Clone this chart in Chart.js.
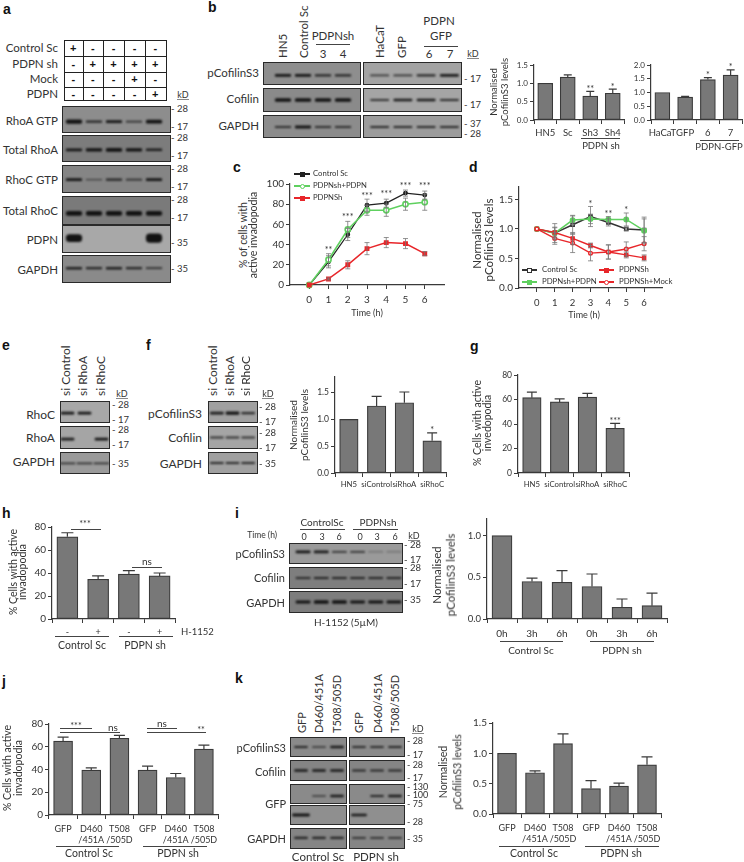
<!DOCTYPE html>
<html lang="en">
<head>
<meta charset="UTF-8" />
<title>PDPN figure</title>
<script src="https://cdn.jsdelivr.net/npm/chart.js"></script>
<style>
  html, body { margin: 0; padding: 0; background: #fff; }
  #page { position: relative; width: 744px; height: 862px; overflow: hidden; font-family: Lato, sans-serif; color: #333; }
  #page span { position: absolute; white-space: nowrap; line-height: 1; }
  #page canvas { position: absolute; }
  .rule { position: absolute; background: #444; }
  .blot { position: absolute; border: 1.5px solid #2a2a2a; box-sizing: border-box; overflow: hidden; }
  .blot canvas { filter: blur(0.8px); }
  .cell { position: absolute; border: 1px solid #222; box-sizing: border-box; }
  .dot { position: absolute; }
</style>
</head>
<body>
<div id="page"></div>
<script>
  // panel b bars
  const bLeftCats = ["HN5", "Sc", "Sh3", "Sh4"];
  const bLeftVals = [1.0, 1.17, 0.65, 0.73];
  const bLeftTops = [1.0, 1.23, 0.78, 0.84];
  const bLeftStars = ["", "", "**", "*"];
  const bRightCats = ["HaCaT", "GFP", "6", "7"];
  const bRightVals = [1.0, 0.83, 1.47, 1.63];
  const bRightTops = [1.0, 0.86, 1.54, 1.82];
  const bRightStars = ["", "", "*", "*"];

  // panel c lines
  const hours = [0, 1, 2, 3, 4, 5, 6];
  const cControl = [0, 23, 50, 79, 81, 91, 89];
  const cControlErr = [0, 6, 6, 6, 4, 3, 4];
  const cRescue = [0, 25, 55, 74, 74, 80, 82];
  const cRescueErr = [0, 6, 8, 5, 6, 6, 8];
  const cSh = [0, 6, 20, 36, 42, 41, 31];
  const cShErr = [0, 1, 4, 6, 5, 5, 2];
  const cStars = ["", "**", "***", "***", "***", "***", "***"];
  const cStarLevels = [0, 35, 67, 88, 90, 98, 98];

  // panel d lines
  const dControl = [1, 0.93, 1.07, 1.21, 1.11, 1.0, 0.98];
  const dControlErr = [0, 0.16, 0.16, 0.17, 0.06, 0.03, 0.22];
  const dRescue = [1, 0.93, 1.15, 1.17, 1.16, 1.16, 0.97];
  const dRescueErr = [0, 0.1, 0.07, 0.08, 0.05, 0.11, 0.2];
  const dSh = [1, 0.94, 0.84, 0.72, 0.61, 0.56, 0.51];
  const dShErr = [0, 0.08, 0.1, 0.04, 0.12, 0.05, 0.05];
  const dMock = [1, 0.84, 0.76, 0.59, 0.61, 0.66, 0.75];
  const dMockErr = [0, 0.1, 0.16, 0.13, 0.12, 0.12, 0.12];
  const dStars = ["", "", "", "*", "**", "*", ""];
  const dStarLevels = [0, 0, 0, 1.42, 1.26, 1.32, 0];

  // panels f, g
  const siCats = ["HN5", "siControl", "siRhoA", "siRhoC"];
  const fVals = [1.0, 1.25, 1.31, 0.6];
  const fTops = [1.0, 1.43, 1.51, 0.75];
  const fStars = ["", "", "", "*"];
  const gVals = [61.5, 58, 62, 36.5];
  const gTops = [66, 60.5, 65, 40.5];
  const gStars = ["", "", "", "***"];

  // panels h, i
  const hCats = ["-", "+", "-", "+"];
  const hVals = [71.5, 34.5, 39, 37.5];
  const hTops = [75, 37.5, 42, 40];
  const iCats = ["0h", "3h", "6h", "0h", "3h", "6h"];
  const iVals = [1.0, 0.45, 0.44, 0.39, 0.14, 0.16];
  const iTops = [1.0, 0.49, 0.58, 0.54, 0.24, 0.31];

  // panels j, k
  const mutantCats = ["GFP", ["D460", "/451A"], ["T508", "/505D"], "GFP", ["D460", "/451A"], ["T508", "/505D"]];
  const jVals = [65, 39.5, 67.5, 39.5, 33, 58];
  const jTops = [68.5, 41.5, 70, 43, 36.5, 61.5];
  const kVals = [1.0, 0.68, 1.16, 0.42, 0.46, 0.81];
  const kTops = [1.0, 0.71, 1.32, 0.55, 0.51, 0.94];

  // blot band strengths, one per lane
  const aRhoAGtp = [3.5, 1.5, 2.2, 1.2, 3];
  const aTotalRhoA = [2.2, 2.5, 3, 2.5, 1.8];
  const aRhoCGtp = [2.2, 0.6, 1.5, 1.2, 2.2];
  const aTotalRhoC = [4, 4, 4, 4, 4];
  const aPdpn = [7, 0, 0, 0, 8.5];
  const aGapdh = [1.8, 1.5, 1.8, 1.5, 1.2];
  const bPcofL = [2.2, 2.2, 1.5, 1.5];
  const bCofL = [3, 3, 3, 3];
  const bGapdhL = [1.2, 2.2, 1.2, 1.2];
  const bPcofR = [1, 1.2, 1.5, 2];
  const bCofR = [1.2, 2, 2, 1.5];
  const bGapdhR = [1.5, 1.5, 1.5, 1.5];
  const eRhoC = [2.2, 2.2, 0];
  const eRhoA = [2, 0, 2.2];
  const eGapdh = [1.2, 1.2, 1.2];
  const fPcof = [2, 2.5, 1.5];
  const fCof = [1.2, 1.2, 1.2];
  const fGapdh = [1.5, 1.5, 1.5];
  const iPcof = [2.2, 2, 1.2, 1.2, 0.2, 0.2];
  const iCof = [1.2, 1.5, 1.5, 1.5, 1.5, 1.5];
  const iGapdh = [2.5, 3, 3, 2.2, 2.5, 2.5];
  const kPcofL = [1.5, 1, 2];
  const kCofL = [2, 2, 2];
  const kGfpTopL = [0, 0.8, 2];
  const kGfpLowL = [2.2, 0, 0];
  const kGapdhL = [1.5, 1.5, 1.5];
  const kPcofR = [1.2, 1.2, 1.5];
  const kCofR = [1.5, 1.5, 1.5];
  const kGfpTopR = [0, 1.5, 2];
  const kGfpLowR = [2, 0, 0];
  const kGapdhR = [1.2, 1.2, 1.2];

  const page = document.getElementById("page");
  const ink = "#3a3a3a";
  const barFill = "#787878";

  function T(str, x, y, o = {}) {
    const s = document.createElement("span");
    s.textContent = str;
    const ax = o.align === "right" ? "-100%" : o.align === "left" ? "0" : "-50%";
    s.style.left = x + "px";
    s.style.top = y + "px";
    s.style.fontSize = (o.size || 11) + "px";
    if (o.bold) { s.style.fontWeight = "bold"; s.style.fontFamily = "'Liberation Sans', sans-serif"; s.style.color = "#111"; }
    if (o.rot) {
      s.style.writingMode = "vertical-rl";
      s.style.transform = `translate(-50%, ${o.rot === "bottom" ? "-100%" : "-50%"}) rotate(180deg)`;
    } else {
      s.style.transform = `translate(${ax}, -50%)`;
    }
    page.appendChild(s);
  }

  function rule(x0, x1, y, h = 1, color = "#444") {
    const d = document.createElement("div");
    d.className = "rule";
    d.style.cssText = `left:${x0}px;top:${y}px;width:${x1 - x0}px;height:${h}px;background:${color}`;
    page.appendChild(d);
  }

  function marker(x, y, size, color, open, round) {
    const d = document.createElement("div");
    d.className = "dot";
    d.style.cssText = `left:${x - size / 2}px;top:${y - size / 2}px;width:${size}px;height:${size}px;box-sizing:border-box;` +
      (open ? `border:1.2px solid ${color};background:#fff;` : `background:${color};`) + (round ? "border-radius:50%;" : "");
    page.appendChild(d);
  }

  function legendRow(label, x0, x1, y, color, textX, size, open, round, lw = 1.5) {
    rule(x0, x1, y - lw / 2, lw, color);
    marker((x0 + x1) / 2, y, 5, color, open, round);
    T(label, textX, y, { align: "left", size });
  }

  // error bars and significance stars, read through the chart's own scales
  const marksPlugin = {
    id: "marks",
    afterDatasetsDraw(chart) {
      const { ctx, scales: { y } } = chart;
      chart.data.datasets.forEach((ds, di) => {
        chart.getDatasetMeta(di).data.forEach((el, i) => {
          if (ds.tops) {
            const py = y.getPixelForValue(ds.tops[i]);
            if (ds.tops[i] > ds.data[i]) {
              const cap = ds.capSize || 6;
              ctx.strokeStyle = ink; ctx.lineWidth = 1.2;
              ctx.beginPath();
              ctx.moveTo(el.x, el.y); ctx.lineTo(el.x, py);
              ctx.moveTo(el.x - cap, py); ctx.lineTo(el.x + cap, py);
              ctx.stroke();
            }
            if (ds.stars && ds.stars[i]) {
              ctx.fillStyle = "#333"; ctx.font = "9px Lato"; ctx.textAlign = "center"; ctx.textBaseline = "alphabetic";
              ctx.fillText(ds.stars[i], el.x, py + 0.5);
            }
          }
          if (ds.rawErr && ds.rawErr[i]) {
            const hi = y.getPixelForValue(ds.data[i].y + ds.rawErr[i]);
            const lo = y.getPixelForValue(ds.data[i].y - ds.rawErr[i]);
            ctx.strokeStyle = "#777"; ctx.lineWidth = 0.8;
            ctx.beginPath();
            ctx.moveTo(el.x, hi); ctx.lineTo(el.x, lo);
            ctx.moveTo(el.x - 2.5, hi); ctx.lineTo(el.x + 2.5, hi);
            ctx.moveTo(el.x - 2.5, lo); ctx.lineTo(el.x + 2.5, lo);
            ctx.stroke();
          }
        });
      });
      const st = chart.options.plugins.marks;
      if (st && st.stars) {
        const xs = chart.scales.x;
        ctx.fillStyle = "#333"; ctx.font = "9px Lato"; ctx.textAlign = "center"; ctx.textBaseline = "alphabetic";
        st.stars.forEach((s, i) => {
          if (s) ctx.fillText(s, xs.getPixelForValue(st.xs[i]), y.getPixelForValue(st.levels[i]) + 3);
        });
      }
    }
  };

  function place(x0, yTop, x1, yBottom, left, bottom) {
    const c = document.createElement("canvas");
    c.width = x1 - x0 + left + 6;
    c.height = yBottom - yTop + bottom + 8;
    c.style.left = (x0 - left) + "px";
    c.style.top = (yTop - 8) + "px";
    page.appendChild(c);
    return c;
  }

  function axes(p, left, bottom) {
    return {
      y: {
        min: 0, max: p.max,
        afterFit: s => { s.width = left; },
        border: { color: ink, width: 1.2 },
        grid: { drawOnChartArea: false, color: ink, tickLength: 4 },
        ticks: {
          stepSize: p.step, includeBounds: false, color: "#333", padding: 2,
          font: { family: "Lato", size: p.tickSize || 9.5 },
          callback: v => p.fixed ? v.toFixed(1) : v
        }
      },
      x: {
        afterFit: s => { s.height = bottom; },
        border: { color: ink, width: 1.2 },
        grid: { drawOnChartArea: false, color: ink, tickLength: 4 },
        ticks: {
          color: "#333", padding: p.xPad === undefined ? 3 : p.xPad, maxRotation: 0, minRotation: 0, autoSkip: false,
          font: { family: "Lato", size: p.xSize || 9.5, lineHeight: 1.25 }
        }
      }
    };
  }

  function barPanel(p) {
    const left = 40, bottom = 44;
    const c = place(p.x0, p.yTop, p.x1, p.yBottom, left, bottom);
    new Chart(c, {
      type: "bar",
      data: {
        labels: p.cats,
        datasets: [{
          data: p.vals, tops: p.tops, stars: p.stars, capSize: p.cap,
          backgroundColor: barFill, borderColor: ink, borderWidth: 1.2, borderSkipped: false,
          barThickness: p.barW
        }]
      },
      options: {
        responsive: false, animation: false,
        layout: { autoPadding: false, padding: { top: 8, right: 6 } },
        plugins: { legend: { display: false }, tooltip: { enabled: false } },
        scales: axes(p, left, bottom)
      },
      plugins: [marksPlugin]
    });
  }

  function linePanel(p) {
    const left = 40, bottom = 30;
    const c = place(p.x0, p.yTop, p.x1, p.yBottom, left, bottom);
    const sc = axes(p, left, bottom);
    sc.x.type = "linear";
    sc.x.min = -1; sc.x.max = 7;
    sc.x.ticks.stepSize = 1;
    sc.x.afterBuildTicks = s => { s.ticks = s.ticks.filter(t => t.value >= 0 && t.value <= 6); };
    new Chart(c, {
      type: "line",
      data: { labels: hours, datasets: p.datasets.map(d => ({
        data: d.data.map((v, i) => ({ x: hours[i], y: v })), rawErr: d.err,
        borderColor: d.color, backgroundColor: d.open ? "#fff" : d.color,
        pointBorderColor: d.color, pointRadius: d.r || 2.2, pointStyle: d.style || "circle",
        borderWidth: d.w || 1.5, tension: 0, clip: false
      })) },
      options: {
        responsive: false, animation: false,
        layout: { autoPadding: false, padding: { top: 8, right: 6 } },
        plugins: { legend: { display: false }, tooltip: { enabled: false }, marks: { stars: p.stars, levels: p.levels, xs: hours } },
        scales: sc
      },
      plugins: [marksPlugin]
    });
  }

  // one western blot strip: floating bars on a hidden scale, one per lane
  function blot(x0, y0, x1, y1, first, last, bands, pos, bg, bandW) {
    const w = document.createElement("div");
    w.className = "blot";
    w.style.cssText = `left:${x0}px;top:${y0}px;width:${x1 - x0}px;height:${y1 - y0}px;background:${bg}`;
    page.appendChild(w);
    const h = y1 - y0;
    const step = (last - first) / (bands.length - 1);
    const c = document.createElement("canvas");
    c.width = Math.round(step * bands.length);
    c.height = h;
    c.style.left = (first - step / 2 - x0 - 1.5) + "px";
    c.style.top = "-1.5px";
    w.appendChild(c);
    new Chart(c, {
      type: "bar",
      data: {
        labels: bands.map((_, i) => i),
        datasets: [{
          data: bands.map(t => t ? [h * (1 - pos) - t / 2, h * (1 - pos) + t / 2] : null),
          backgroundColor: bands.map(t => `rgba(18,18,18,${Math.min(1, 0.55 + t * 0.2)})`),
          borderRadius: 4, borderSkipped: false, barThickness: bandW || step * 0.78
        }]
      },
      options: {
        responsive: false, animation: false,
        layout: { autoPadding: false },
        plugins: { legend: { display: false }, tooltip: { enabled: false } },
        scales: { x: { display: false }, y: { display: false, min: 0, max: h } }
      }
    });
  }

  function kD(x, y, size = 9) {
    T("kD", x, y, { size });
    rule(x - 6, x + 6, y + 5, 1, "#888");
  }
  function sizes(x, list, size = 9.5) {
    list.forEach(([label, y]) => T("- " + label, x, y, { align: "left", size }));
  }

  // panel letters
  [["a", 3, 9], ["b", 208, 7], ["c", 233, 167], ["d", 469, 167], ["e", 2, 345], ["f", 146, 345], ["g", 470, 346],
   ["h", 2, 513], ["i", 235, 513], ["j", 2, 681], ["k", 235, 678]].forEach(([l, x, y]) => T(l, x, y, { align: "left", size: 14, bold: true }));

  // ---- panel a ----
  const aCols = [64, 82.5, 103, 124, 145, 165.5];
  const aRows = [40, 56, 71.5, 87, 100];
  const aSigns = [["+", "-", "-", "-", "-"], ["-", "+", "+", "+", "+"], ["-", "-", "-", "+", "-"], ["-", "-", "-", "-", "+"]];
  aSigns.forEach((row, r) => row.forEach((s, i) => {
    const d = document.createElement("div");
    d.className = "cell";
    d.style.cssText = `left:${aCols[i]}px;top:${aRows[r]}px;width:${aCols[i + 1] - aCols[i] + 1}px;height:${aRows[r + 1] - aRows[r] + 1}px`;
    page.appendChild(d);
    T(s, (aCols[i] + aCols[i + 1]) / 2, (aRows[r] + aRows[r + 1]) / 2, { size: 11, bold: true });
  }));
  [["Control Sc", 48], ["PDPN sh", 64], ["Mock", 79], ["PDPN", 94], ["RhoA GTP", 121], ["Total RhoA", 150],
   ["RhoC GTP", 180], ["Total RhoC", 211], ["PDPN", 240], ["GAPDH", 270]].forEach(([l, y]) => T(l, 58, y, { align: "right", size: 11.5 }));
  blot(62, 106, 171, 133, 74, 154, aRhoAGtp, 0.58, "#8d8d8d");
  blot(62, 135, 171, 162, 74, 154, aTotalRhoA, 0.55, "#7c7c7c");
  blot(62, 165, 171, 193, 74, 154, aRhoCGtp, 0.52, "#858585");
  blot(62, 196, 171, 225, 74, 154, aTotalRhoC, 0.6, "#7a7a7a");
  blot(62, 225, 171, 253, 74, 154, aPdpn, 0.47, "#a8a8a8");
  blot(62, 255, 171, 283, 74, 154, aGapdh, 0.47, "#8a8a8a");
  kD(183, 94);
  sizes(171, [["28", 109], ["17", 127], ["28", 138], ["17", 156], ["28", 169], ["17", 187], ["28", 200], ["17", 218], ["35", 243], ["35", 269]]);

  // ---- panel b ----
  [["HN5", 283], ["Control Sc", 304], ["HaCaT", 380], ["GFP", 402]].forEach(([l, x]) => T(l, x, 58, { size: 11.5, rot: "bottom" }));
  T("PDPNsh", 333, 36, { size: 11.5 }); rule(316, 350, 44);
  T("3", 323, 54, { size: 11.5 }); T("4", 343, 54, { size: 11.5 });
  T("PDPN", 439, 21, { size: 11.5 }); T("GFP", 441, 36, { size: 11.5 }); rule(424, 458, 46);
  T("6", 429, 54, { size: 11.5 }); T("7", 450, 54, { size: 11.5 });
  [["pCofilinS3", 73], ["Cofilin", 99], ["GAPDH", 126]].forEach(([l, y]) => T(l, 259, y, { align: "right", size: 11.5 }));
  blot(263, 62, 361, 85, 283, 343, bPcofL, 0.58, "#8e8e8e");
  blot(263, 88, 361, 112, 283, 343, bCofL, 0.5, "#8a8a8a");
  blot(263, 115, 361, 138, 283, 343, bGapdhL, 0.52, "#8c8c8c");
  blot(363, 62, 462, 85, 380, 450, bPcofR, 0.58, "#a3a3a3");
  blot(363, 88, 462, 112, 380, 450, bCofR, 0.5, "#a5a5a5");
  blot(363, 115, 462, 138, 380, 450, bGapdhR, 0.52, "#9c9c9c");
  kD(473, 53);
  sizes(464, [["17", 79], ["17", 105], ["37", 124], ["28", 134]]);

  barPanel({ x0: 534, x1: 624, yTop: 65, yBottom: 120, max: 1.5, step: 0.5, fixed: true, cats: bLeftCats, vals: bLeftVals, tops: bLeftTops, stars: bLeftStars, barW: 15, cap: 4, tickSize: 8, xSize: 9.5 });
  barPanel({ x0: 651, x1: 742, yTop: 65, yBottom: 120, max: 2.0, step: 0.5, fixed: true, cats: bRightCats, vals: bRightVals, tops: bRightTops, stars: bRightStars, barW: 15, cap: 4, tickSize: 8, xSize: 9.5 });
  T("Normalised", 494, 92, { size: 9.5, rot: "center" });
  T("pCofilinS3  levels", 505, 92, { size: 9.5, rot: "center" });
  rule(581, 620, 138); T("PDPN sh", 601, 146, { size: 9.5 });
  rule(700, 739, 140); T("PDPN-GFP", 719, 147, { size: 9.5 });

  // ---- panel c ----
  linePanel({
    x0: 290, x1: 444, yTop: 184, yBottom: 285, max: 100, step: 20, tickSize: 10, xSize: 10, xPad: 5,
    datasets: [
      { data: cSh, err: cShErr, color: "#e8262a", style: "rect", r: 2.4, w: 1.5 },
      { data: cRescue, err: cRescueErr, color: "#5fd05f", open: true, r: 2.6, w: 1.6 },
      { data: cControl, err: cControlErr, color: "#222", r: 1.8, w: 1.3 }
    ],
    stars: cStars, levels: cStarLevels
  });
  T("% of cells with", 243, 235, { size: 10.5, rot: "center" });
  T("active invadopodia", 253, 235, { size: 10.5, rot: "center" });
  T("Time (h)", 367, 312, { size: 9 });
  legendRow("Control Sc", 294, 310, 174, "#222", 313, 7.7);
  legendRow("PDPNsh+PDPN", 294, 310, 186, "#5fd05f", 313, 7.7, true, true);
  legendRow("PDPNSh", 294, 310, 198, "#e8262a", 313, 7.7);

  // ---- panel d ----
  linePanel({
    x0: 519, x1: 662, yTop: 187, yBottom: 288, max: 1.71, step: 0.5, fixed: true, tickSize: 10, xSize: 9.5, xPad: 5,
    datasets: [
      { data: dMock, err: dMockErr, color: "#e8262a", open: true, r: 1.8, w: 1.4 },
      { data: dSh, err: dShErr, color: "#e8262a", style: "rect", r: 2.2, w: 1.4 },
      { data: dRescue, err: dRescueErr, color: "#5fd05f", r: 2.2, w: 1.5 },
      { data: dControl, err: dControlErr, color: "#333", style: "rect", open: true, r: 2.2, w: 1.5 }
    ],
    stars: dStars, levels: dStarLevels
  });
  T("Normalised", 477, 240, { size: 11.5, rot: "center" });
  T("pCofilinS3  levels", 489, 240, { size: 11.5, rot: "center" });
  T("Time (h)", 584, 314, { size: 9 });
  legendRow("Control Sc", 522, 537, 270, "#333", 542, 7.8, true, false, 1.6);
  legendRow("PDPNSh", 599, 614, 270, "#e8262a", 619, 7.8);
  legendRow("PDPNsh+PDPN", 522, 537, 282, "#5fd05f", 542, 7.8);
  legendRow("PDPNSh+Mock", 599, 614, 282, "#e8262a", 619, 7.8, true, true);

  // ---- panel e ----
  [["si Control", 66], ["si RhoA", 83], ["si RhoC", 101]].forEach(([l, x]) => T(l, x, 396, { size: 12, rot: "bottom" }));
  [["RhoC", 415], ["RhoA", 438], ["GAPDH", 462]].forEach(([l, y]) => T(l, 55, y, { align: "right", size: 12 }));
  blot(60, 401, 110, 423, 68, 102, eRhoC, 0.55, "#a8a8a8", 13);
  blot(60, 426, 110, 449, 68, 102, eRhoA, 0.57, "#a5a5a5", 13);
  blot(60, 452, 110, 474, 68, 102, eGapdh, 0.52, "#9a9a9a", 15);
  kD(122, 393);
  sizes(112, [["28", 405], ["17", 420], ["28", 430], ["17", 445], ["35", 464]]);

  // ---- panel f ----
  [["si Control", 213], ["si RhoA", 230], ["si RhoC", 246]].forEach(([l, x]) => T(l, x, 396, { size: 12, rot: "bottom" }));
  [["pCofilinS3", 414], ["Cofilin", 438], ["GAPDH", 464]].forEach(([l, y]) => T(l, 202, y, { align: "right", size: 12 }));
  blot(208, 401, 258, 423, 217, 248, fPcof, 0.55, "#a0a0a0", 13);
  blot(208, 426, 258, 449, 217, 248, fCof, 0.5, "#a5a5a5", 13);
  blot(208, 452, 258, 474, 217, 248, fGapdh, 0.5, "#a0a0a0", 13);
  kD(268, 393);
  sizes(259, [["28", 407], ["17", 422], ["28", 433], ["17", 448], ["35", 464]]);

  barPanel({ x0: 335, x1: 446, yTop: 377, yBottom: 473, max: 1.79, step: 0.5, fixed: true, cats: siCats, vals: fVals, tops: fTops, stars: fStars, barW: 18.5, cap: 5, tickSize: 8.5, xSize: 7.8, xPad: 3 });
  T("Normalised", 293, 425, { size: 10, rot: "center" });
  T("pCofilinS3 levels", 304, 425, { size: 10, rot: "center" });

  // ---- panel g ----
  barPanel({ x0: 518, x1: 629, yTop: 375, yBottom: 473, max: 80, step: 20, cats: siCats, vals: gVals, tops: gTops, stars: gStars, barW: 18.5, cap: 5, tickSize: 8.5, xSize: 7.8, xPad: 3 });
  T("% Cells with active", 477, 423, { size: 10.5, rot: "center" });
  T("invedopodia", 487, 423, { size: 10.5, rot: "center" });

  // ---- panel h ----
  barPanel({ x0: 52, x1: 175, yTop: 527, yBottom: 619, max: 80, step: 20, cats: hCats, vals: hVals, tops: hTops, barW: 21, cap: 6, tickSize: 10, xSize: 9, xPad: 3 });
  T("% Cells with active", 13, 572, { size: 10.5, rot: "center" });
  T("invadopodia", 22, 572, { size: 10.5, rot: "center" });
  rule(55, 109, 636); rule(119, 173, 636);
  T("Control Sc", 82, 645, { size: 10.5 }); T("PDPN sh", 145, 645, { size: 10.5 });
  T("H-1152", 181, 632, { align: "left", size: 9.5 });
  rule(71, 101, 529); T("***", 85, 523, { size: 9 });
  rule(132, 162, 567); T("ns", 147, 561, { size: 10 });

  // ---- panel i ----
  T("ControlSc", 322, 522, { size: 10 }); rule(300, 345, 529);
  T("PDPNsh", 378, 522, { size: 10 }); rule(353, 398, 529);
  T("Time (h)", 277, 535, { align: "right", size: 8.5 });
  [[304, "0"], [322, "3"], [339, "6"], [360, "0"], [377, "3"], [395, "6"]].forEach(([x, l]) => T(l, x, 536, { size: 9 }));
  [["pCofilinS3", 553], ["Cofilin", 577], ["GAPDH", 602]].forEach(([l, y]) => T(l, 285, y, { align: "right", size: 11 }));
  blot(289, 543, 403, 564, 304, 395, iPcof, 0.42, "#9a9a9a");
  blot(289, 567, 403, 589, 304, 395, iCof, 0.5, "#7e7e7e");
  blot(289, 591, 403, 613, 304, 395, iGapdh, 0.5, "#7d7d7d");
  T("H-1152 (5µM)", 346, 622, { size: 10 });
  kD(414, 535);
  sizes(404, [["28", 545], ["17", 560], ["28", 568], ["17", 584], ["35", 600]]);

  barPanel({ x0: 487, x1: 667, yTop: 519, yBottom: 619, max: 1.2, step: 0.5, fixed: true, cats: iCats, vals: iVals, tops: iTops, barW: 20, cap: 5.5, tickSize: 9.5, xSize: 10, xPad: 5 });
  T("Normalised", 437, 575, { size: 11.5, rot: "center" });
  T("pCofilinS3 levels", 451, 575, { size: 11.5, rot: "center" });
  rule(500, 563, 641); rule(590, 654, 641);
  T("Control Sc", 531, 650, { size: 10 }); T("PDPN sh", 622, 650, { size: 10 });

  // ---- panel j ----
  barPanel({ x0: 49, x1: 218, yTop: 724, yBottom: 815, max: 80, step: 20, cats: mutantCats, vals: jVals, tops: jTops, barW: 19, cap: 5.5, tickSize: 10, xSize: 9, xPad: 4 });
  T("% Cells with active", 7, 768, { size: 10.5, rot: "center" });
  T("invadopodia", 18, 768, { size: 10.5, rot: "center" });
  rule(56, 119, 846); rule(143, 207, 846);
  T("Control Sc", 89, 853, { size: 10.5 }); T("PDPN sh", 178, 853, { size: 10.5 });
  rule(60, 92, 728); T("***", 76, 725, { size: 9 });
  rule(60, 120, 732); T("ns", 113, 727, { size: 10 });
  rule(147, 177, 728); T("ns", 162, 723, { size: 10 });
  rule(147, 206, 732); T("**", 201, 729, { size: 9 });

  // ---- panel k ----
  [["GFP", 301], ["D460/451A", 318], ["T508/505D", 336], ["GFP", 358], ["D460/451A", 377], ["T508/505D", 394]].forEach(([l, x]) => T(l, x, 733, { size: 11, rot: "bottom" }));
  [["pCofilinS3", 747], ["Cofilin", 771], ["GFP", 803], ["GAPDH", 838]].forEach(([l, y]) => T(l, 286, y, { align: "right", size: 11 }));
  blot(290, 737, 347, 757, 301, 337, kPcofL, 0.5, "#8a8a8a", 13);
  blot(290, 760, 347, 781, 301, 337, kCofL, 0.5, "#858585", 13);
  blot(290, 784, 347, 804, 301, 337, kGfpTopL, 0.6, "#8a8a8a", 13);
  blot(290, 805, 347, 825, 301, 337, kGfpLowL, 0.5, "#8f8f8f", 17);
  blot(290, 828, 347, 849, 301, 337, kGapdhL, 0.47, "#858585", 13);
  blot(349, 737, 405, 757, 359, 395, kPcofR, 0.5, "#8a8a8a", 13);
  blot(349, 760, 405, 781, 359, 395, kCofR, 0.5, "#858585", 13);
  blot(349, 784, 405, 804, 359, 395, kGfpTopR, 0.6, "#8a8a8a", 13);
  blot(349, 805, 405, 825, 359, 395, kGfpLowR, 0.5, "#8f8f8f", 15);
  blot(349, 828, 405, 849, 359, 395, kGapdhR, 0.47, "#858585", 13);
  T("Control Sc", 318, 857, { size: 11.5 }); T("PDPN sh", 376, 857, { size: 11.5 });
  kD(418, 728);
  sizes(407, [["28", 740], ["17", 754], ["28", 764], ["17", 777], ["130", 786], ["100", 794], ["75", 803], ["28", 821], ["35", 838]], 9);

  barPanel({ x0: 493, x1: 661, yTop: 723, yBottom: 814, max: 1.5, step: 0.5, fixed: true, cats: mutantCats, vals: kVals, tops: kTops, barW: 19, cap: 5.5, tickSize: 10, xSize: 9, xPad: 4 });
  T("Normalised", 443, 772, { size: 10.5, rot: "center" });
  T("pCofilinS3 levels", 458, 772, { size: 10.5, rot: "center" });
  rule(499, 570, 846); rule(585, 659, 846);
  T("Control Sc", 534, 853, { size: 10.5 }); T("PDPN sh", 621, 853, { size: 10.5 });
</script>
</body>
</html>
